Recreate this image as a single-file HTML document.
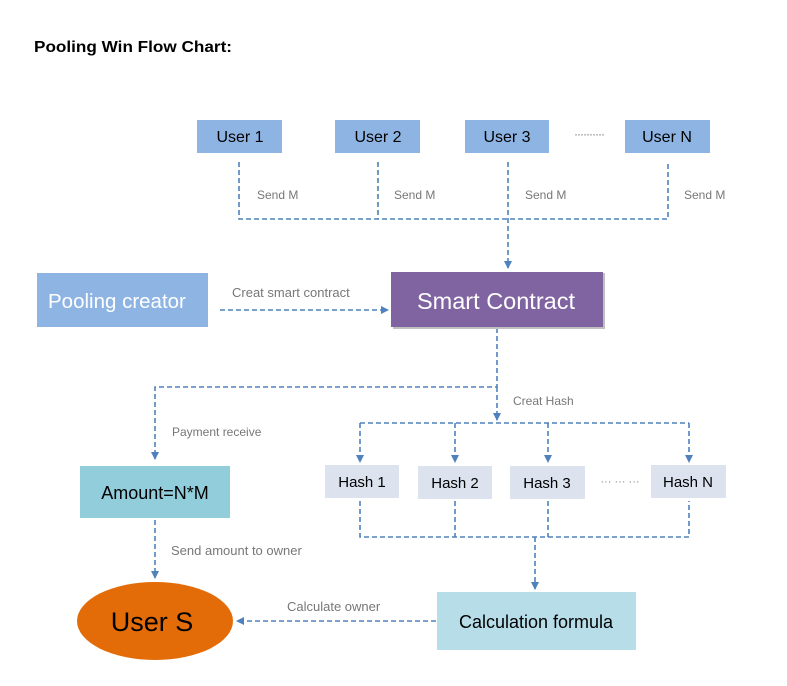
<!DOCTYPE html>
<html><head><meta charset="utf-8"><style>
html,body{margin:0;padding:0;background:#fff;}
svg{display:block;}
</style></head><body>
<svg width="787" height="686" viewBox="0 0 787 686" xmlns="http://www.w3.org/2000/svg" font-family="Liberation Sans, Arial, sans-serif">
<defs>
<marker id="a" markerWidth="8" markerHeight="8" refX="7" refY="4" orient="auto" markerUnits="userSpaceOnUse">
<path d="M0,0 L8,4 L0,8 Z" fill="#4f81bd"/>
</marker>
</defs>
<text x="34" y="52" font-size="16" font-weight="bold" fill="#000" textLength="198" lengthAdjust="spacingAndGlyphs">Pooling Win Flow Chart:</text>

<g fill="#8eb4e3">
<rect x="197" y="120" width="85" height="33"/>
<rect x="335" y="120" width="85" height="33"/>
<rect x="465" y="120" width="84" height="33"/>
<rect x="625" y="120" width="85" height="33"/>
</g>
<g font-size="16" fill="#000" text-anchor="middle">
<text x="240" y="142">User 1</text>
<text x="378" y="142">User 2</text>
<text x="507" y="142">User 3</text>
<text x="667" y="142">User N</text>
</g>
<text x="589" y="138" font-size="12" fill="#777" text-anchor="middle" letter-spacing="-1">··········</text>

<g stroke="#4f81bd" stroke-width="1.6" stroke-dasharray="5,3" fill="none">
<path d="M239 162 V219 H668 V162"/>
<path d="M378 162 V219"/>
<path d="M508 162 V268" marker-end="url(#a)"/>
<path d="M220 310 H388" marker-end="url(#a)"/>
<path d="M497 328 V387 H155 V459" marker-end="url(#a)"/>
<path d="M497 387 V420" marker-end="url(#a)"/>
<path d="M360 423 H689"/>
<path d="M360 423 V462" marker-end="url(#a)"/>
<path d="M455 423 V462" marker-end="url(#a)"/>
<path d="M548 423 V462" marker-end="url(#a)"/>
<path d="M689 423 V462" marker-end="url(#a)"/>
<path d="M360 501 V537 H689 V501"/>
<path d="M455 501 V537"/>
<path d="M548 501 V537"/>
<path d="M535 537 V589" marker-end="url(#a)"/>
<path d="M155 520 V578" marker-end="url(#a)"/>
<path d="M436 621 H237" marker-end="url(#a)"/>
</g>

<g font-size="12" fill="#777">
<text x="257" y="199">Send M</text>
<text x="394" y="199">Send M</text>
<text x="525" y="199">Send M</text>
<text x="684" y="199">Send M</text>
<text x="232" y="297" font-size="13">Creat smart contract</text>
<text x="513" y="405">Creat Hash</text>
<text x="172" y="436">Payment receive</text>
<text x="171" y="555" font-size="13">Send amount to owner</text>
<text x="287" y="611" font-size="13">Calculate owner</text>
</g>

<rect x="37" y="273" width="171" height="54" fill="#8eb4e3"/>
<text x="48" y="308" font-size="20.5" fill="#fff">Pooling creator</text>
<rect x="393" y="273" width="212" height="56" fill="#c0c0c0"/>
<rect x="391" y="272" width="212" height="55" fill="#8064a2"/>
<text x="417" y="309" font-size="23.5" fill="#fff" textLength="158" lengthAdjust="spacingAndGlyphs">Smart Contract</text>

<g fill="#dce3ef">
<rect x="325" y="465" width="74" height="33"/>
<rect x="418" y="466" width="74" height="33"/>
<rect x="510" y="466" width="75" height="33"/>
<rect x="651" y="465" width="75" height="33"/>
</g>
<g font-size="15" fill="#000" text-anchor="middle">
<text x="362" y="487">Hash 1</text>
<text x="455" y="488">Hash 2</text>
<text x="547" y="488">Hash 3</text>
<text x="688" y="487">Hash N</text>
</g>
<text x="620" y="485" font-size="11" fill="#888" text-anchor="middle">··· ··· ···</text>

<rect x="80" y="466" width="150" height="52" fill="#92cddc"/>
<text x="155" y="499" font-size="18" fill="#000" text-anchor="middle">Amount=N*M</text>

<rect x="437" y="592" width="199" height="58" fill="#b7dde8"/>
<text x="536" y="628" font-size="18" fill="#000" text-anchor="middle">Calculation formula</text>

<ellipse cx="155" cy="621" rx="78" ry="39" fill="#e36c09"/>
<text x="152" y="631" font-size="27" fill="#000" text-anchor="middle">User S</text>
</svg>
</body></html>
